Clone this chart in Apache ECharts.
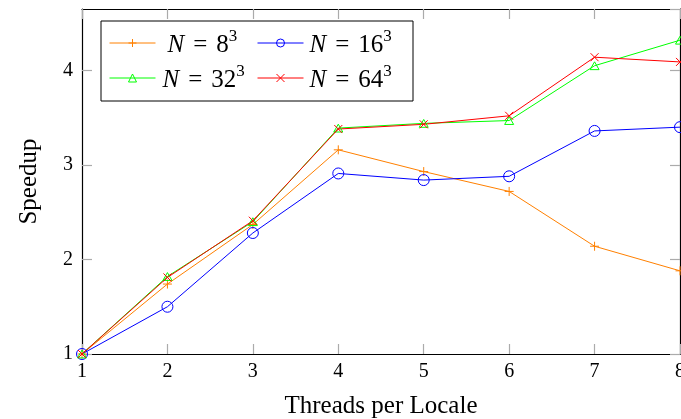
<!DOCTYPE html>
<html>
<head>
<meta charset="utf-8">
<script src="https://cdn.jsdelivr.net/npm/echarts@6/dist/echarts.min.js"></script>
<style>
  html, body { margin: 0; padding: 0; background: #fff; }
  #chart { width: 681px; height: 419px; }
</style>
</head>
<body>
<div id="chart"></div>
<script>
// Threads per locale (x) and measured speedup for each problem size
const threads = [1, 2, 3, 4, 5, 6, 7, 8];
const sizeBases = ['8', '16', '32', '64'];
const speedupN8  = [1, 1.74, 2.37, 3.16, 2.93, 2.72, 2.14, 1.88];
const speedupN16 = [1, 1.50, 2.28, 2.91, 2.84, 2.88, 3.36, 3.40];
const speedupN32 = [1, 1.82, 2.40, 3.39, 3.44, 3.47, 4.05, 4.32];
const speedupN64 = [1, 1.81, 2.41, 3.38, 3.43, 3.52, 4.14, 4.09];
const xTicks = [1, 2, 3, 4, 5, 6, 7, 8];
const yTicks = [1, 2, 3, 4];

const FONT = 'Liberation Serif';
const TICK_GREY = '#ababab';
const seriesValues = [speedupN8, speedupN16, speedupN32, speedupN64];
const colors = ['#ff8000', '#0000ff', '#00ff00', '#ff0000'];
// unfilled outline markers: plus, circle, triangle, cross
const symbols = [
  'path://M5,0L5,10M0,5L10,5',
  'path://M10,5A5,5,0,1,1,0,5A5,5,0,1,1,10,5Z',
  'path://M5,0L10,8.7L0,8.7Z',
  'path://M0,0L10,10M10,0L0,10'
];
const symbolSizes = [9, 11, 9, 8];
const names = sizeBases.map(b => 'N = ' + b + '³');

const series = seriesValues.map((vals, i) => ({
  name: names[i],
  type: 'line',
  data: vals.map((v, k) => [threads[k], v]),
  symbol: symbols[i],
  symbolSize: symbolSizes[i],
  symbolKeepAspect: true,
  showAllSymbol: true,
  clip: false,
  lineStyle: { color: colors[i], width: 1 },
  itemStyle: { color: 'rgba(255,255,255,0)', borderColor: colors[i], borderWidth: 1 },
  emphasis: { disabled: true },
  animation: false
}));

const richLegend = {
  i: { fontFamily: FONT, fontStyle: 'italic', fontSize: 25, color: '#000', lineHeight: 30, verticalAlign: 'bottom' },
  e: { fontFamily: FONT, fontSize: 25, color: '#000', padding: [0, 9, 0, 9], lineHeight: 30, verticalAlign: 'bottom' },
  r: { fontFamily: FONT, fontSize: 25, color: '#000', lineHeight: 30, verticalAlign: 'bottom' },
  s: { fontFamily: FONT, fontSize: 17, color: '#000', lineHeight: 18, verticalAlign: 'top' }
};
const legendPos = [
  { left: 109, top: 28, pad: 7 },
  { left: 257, top: 28, pad: 1 },
  { left: 109, top: 63, pad: 2 },
  { left: 257, top: 63, pad: 1 }
];
const legends = names.map((nm, i) => ({
  data: [nm],
  left: legendPos[i].left,
  top: legendPos[i].top,
  padding: 0,
  itemWidth: 46,
  itemHeight: 10,
  selectedMode: false,
  z: 60,
  itemStyle: { borderWidth: 1 },
  lineStyle: { width: 1 },
  formatter: name => {
    const b = name.slice(4, -1);
    return '{i|N}{e|=}{r|' + b + '}{s|3}';
  },
  textStyle: { padding: [0, 0, 0, legendPos[i].pad], rich: richLegend }
}));

const tickStyle = { show: true, inside: true, length: 10, lineStyle: { color: TICK_GREY, width: 1.2 } };
const lineStyleBlack = { show: true, lineStyle: { color: '#000', width: 1.2 } };

const chart = echarts.init(document.getElementById('chart'), null, { renderer: 'canvas' });
chart.setOption({
  animation: false,
  backgroundColor: '#fff',
  grid: { left: 82, right: 1, top: 9, bottom: 65, containLabel: false, outerBoundsMode: 'none' },
  graphic: [{
    type: 'rect',
    shape: { x: 101, y: 21, width: 312, height: 80 },
    style: { fill: '#fff', stroke: '#000', lineWidth: 1 },
    z: 50
  }],
  legend: legends,
  xAxis: [{
    type: 'value', min: xTicks[0], max: xTicks[xTicks.length - 1], interval: 1,
    position: 'bottom',
    axisLine: lineStyleBlack, axisTick: tickStyle, splitLine: { show: false },
    axisLabel: { fontFamily: FONT, fontSize: 20, color: '#000', margin: 8 },
    name: 'Threads per Locale', nameLocation: 'middle', nameGap: 40,
    nameTextStyle: { fontFamily: FONT, fontSize: 25, color: '#000' }
  }, {
    type: 'value', min: xTicks[0], max: xTicks[xTicks.length - 1], interval: 1,
    position: 'top',
    axisLine: lineStyleBlack, axisTick: tickStyle, splitLine: { show: false },
    axisLabel: { show: false }
  }],
  yAxis: [{
    type: 'value', min: yTicks[0], max: 4.65, interval: 1,
    position: 'left',
    axisLine: lineStyleBlack, axisTick: tickStyle, splitLine: { show: false },
    axisLabel: {
      fontFamily: FONT, fontSize: 20, color: '#000', margin: 9, showMaxLabel: false,
      formatter: v => (yTicks.indexOf(v) >= 0 ? String(v) : '')
    },
    name: 'Speedup', nameLocation: 'middle', nameGap: 40, nameRotate: 90,
    nameTextStyle: { fontFamily: FONT, fontSize: 25, color: '#000' }
  }, {
    type: 'value', min: yTicks[0], max: 4.65, interval: 1,
    position: 'right',
    axisLine: lineStyleBlack, axisTick: tickStyle, splitLine: { show: false },
    axisLabel: { show: false }
  }],
  series: series
});
</script>
</body>
</html>
